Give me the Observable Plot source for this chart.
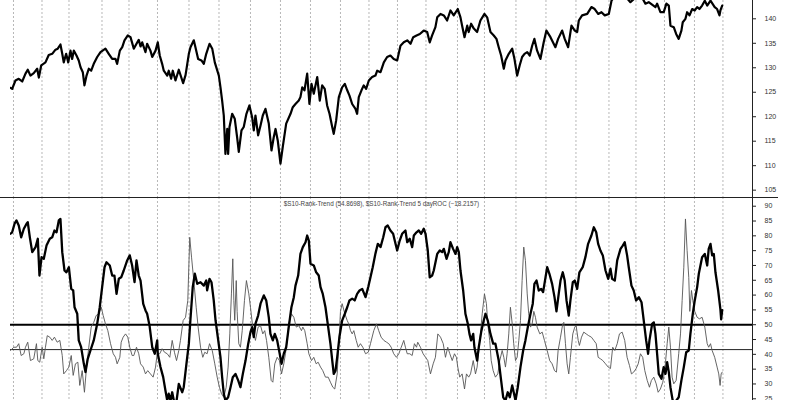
<!DOCTYPE html>
<html>
<head>
<meta charset="utf-8">
<script src="https://cdn.jsdelivr.net/npm/d3@7"></script>
<script src="https://cdn.jsdelivr.net/npm/@observablehq/plot@0.6"></script>
<style>
  html, body { margin: 0; padding: 0; background: #fff; }
  #chart { width: 800px; height: 400px; position: relative; overflow: hidden; }
  #chart svg { display: block; }
  .sep { position: absolute; left: 0; top: 196.5px; width: 778px; height: 0; border-top: 1px solid #222; }
</style>
</head>
<body>
<div id="chart"></div>
<script>
// ---- data (x = trading-session index) ----
const gridDays = [2,21,39,61,79,98,119,139,160,180,200,220,239,258,277,298,316,337,357,377,399,417,436,456,475];
const priceTicks = [105,110,115,120,125,130,135,140];
const trendTicks = [25,30,35,40,45,50,55,60,65,70,75,80,85,90];
const levels = [50, 41.6];
const titleText = "$S10-Rank-Trend (54.8698), $S10-Rank-Trend 5 dayROC (\u221218.2157)";

const price = [
[0,125.9],[1.1,125.7],[3.3,127.4],[5.5,127.75],[7.8,127.2],[10,128.8],[11.5,129.6],[13.3,128.4],[15.5,128.9],[17.8,129.8],
[18.9,128.0],[20.5,130.5],[23.3,131.1],[25.5,132.6],[27.8,132.85],[30,133.7],[31.5,133.9],[33.3,134.75],[34.5,132.85],[35.5,131.1],
[37.1,132.85],[38.5,131.1],[40,133.5],[41.1,131.8],[42.2,133.5],[44,132.5],[45.5,131.5],[46.7,130.1],[48.2,129.1],[49.3,126.4],
[50.7,128.4],[52.2,129.8],[53.8,129.4],[55.5,130.8],[57.8,132.2],[60,133.2],[63.3,133.9],[65.5,132.85],[67.8,131.8],[70,131.8],
[71.1,130.8],[72.9,133.5],[74.5,134.2],[76,135.6],[78.2,136.6],[80,136.25],[82.2,133.9],[84,134.9],[85.5,135.7],[86.7,134.35],
[87.8,135.2],[90,133.2],[91.1,134.9],[93.3,133.5],[94.5,132.2],[96.7,133.5],[98.2,135.2],[99.5,132.5],[101.1,130.8],[102.2,129.4],
[104.5,128.4],[105.5,129.4],[107.1,127.75],[108.2,129.4],[110,127.4],[112.2,129.6],[115.1,126.85],[116.7,128.5],[118.9,132.85],[120,134.2],
[122.2,135.6],[123.3,134.2],[125.1,131.8],[127.3,131.5],[128.9,130.8],[130.5,132.85],[132.7,134.9],[134.5,133.9],[136.2,131.1],[138.9,128.4],
[140,126.0],[141.1,123.3],[142.2,120.25],[143.3,112.4],[144.5,117.5],[145.1,112.4],[146,117.9],[147.8,120.6],[149.5,119.6],[151.1,115.8],
[152.2,112.8],[154,117.2],[155.5,117.9],[157.3,120.6],[159.3,122.3],[161.1,119.9],[162.2,117.2],[163.3,120.25],[165.1,116.2],[166.7,118.2],
[168.2,120.25],[170,121.6],[172.2,118.6],[174,113.1],[175.5,115.8],[176.7,117.5],[178.2,115.1],[180,110.4],[181.5,113.8],[183.8,118.6],
[186.7,120.6],[188.2,121.95],[190,122.6],[192.2,123.3],[193.3,124.0],[194.5,126.0],[196,125.4],[197.8,128.8],[199.3,122.6],[200.7,126.7],
[202.2,124.7],[204.5,128.1],[206.2,123.3],[207.8,126.4],[209.5,125.7],[211.1,122.3],[212.7,120.6],[214.5,117.9],[215.5,116.5],[217.1,119.2],
[218.9,124.0],[221.1,126.0],[222.9,126.7],[224.5,125.4],[226,124.3],[227.8,122.6],[230,121.6],[231.1,120.6],[232.2,124.0],[234,125.4],
[235.5,126.4],[237.1,125.7],[238.9,127.4],[241.1,128.1],[243.3,128.4],[244.5,129.4],[246.7,129.1],[248.9,131.1],[251.1,132.2],[253.3,132.5],
[255.5,131.8],[257.8,131.5],[260,134.5],[262.2,135.2],[264.5,135.6],[266.7,134.9],[268.5,136.25],[270.7,136.6],[272.9,136.9],[275.5,137.6],
[277.8,137.3],[279.5,135.2],[281.1,136.6],[283.3,138.3],[284.5,140.3],[286.7,141.0],[288.9,140.7],[291.1,139.65],[293.3,141.7],[295.5,140.7],
[298.2,142.0],[300,140.3],[301.1,138.6],[302.7,136.25],[304.5,138.6],[305.5,137.3],[307.1,139.0],[308.9,138.0],[311.1,137.3],[313.3,139.65],
[316,141.0],[317.8,140.3],[320,137.3],[322.2,136.6],[324,135.9],[325.5,134.2],[327.1,132.5],[328.9,129.8],[330,131.5],[332.2,132.85],
[334.5,133.9],[336,131.8],[337.8,128.4],[339.5,130.5],[341.1,132.2],[342.7,132.85],[344.5,133.2],[346.2,132.5],[347.8,134.5],[349.3,135.9],
[351.1,133.5],[353.3,131.8],[355.5,135.2],[357.3,137.6],[360,136.25],[363.3,134.2],[365.1,135.9],[367.8,137.6],[369.5,135.9],[371.8,134.2],
[374,138.6],[376.2,137.6],[377.8,137.3],[378.9,139.65],[381.1,140.7],[384.5,141.0],[387.3,142.4],[389.5,142.0],[391.8,141.0],[394,141.35],
[396.2,140.7],[398.9,141.0],[400.7,143.7],[402.7,144.6],[406.7,145.0],[410.7,144.3],[413.3,143.4],[417.3,144.5],[421.3,144.2],[423.3,143.1],
[425.5,143.4],[430,142.4],[431.1,143.1],[433.3,141.35],[435.5,141.35],[437.3,143.1],[438.9,142.7],[440,138.6],[442.2,138.3],[443.8,136.9],
[445.5,135.9],[447.3,137.6],[448.2,139.3],[450,140.0],[451.1,141.35],[452.7,140.7],[454.5,142.0],[456.2,141.7],[457.8,142.4],[459.3,142.0],
[461.1,142.7],[462.9,143.7],[464.5,142.7],[466.7,143.7],[469.5,142.4],[471.1,142.0],[472.7,140.7],[473.3,141.7],[474.5,142.7]
];

const rankTrend = [
[0,80.7],[1.1,81.2],[2.7,84.1],[4,85.2],[5.5,83.5],[7.1,79.5],[8.9,82.4],[10.7,84.1],[11.5,84.6],[12.9,79.5],
[14.5,74.5],[16.7,76.2],[18.2,79.0],[19.3,66.6],[20.7,72.8],[22.2,72.25],[24,76.7],[26.2,79.0],[27.8,79.5],[29.3,81.8],
[30.7,81.2],[32.2,85.2],[33.3,85.7],[34.5,74.5],[36,68.3],[37.3,67.7],[38.9,69.4],[40.5,62.1],[41.8,61.6],[42.7,55.9],
[44.5,53.7],[45.5,44.7],[47.1,42.4],[48.9,36.8],[50,34.0],[51.5,38.5],[53.3,41.3],[55.5,44.7],[57.8,50.3],[59.5,55.9],
[61.1,62.7],[62.7,69.4],[64,71.1],[66.2,70.0],[67.8,66.6],[69.3,66.6],[70.7,60.4],[72.2,65.5],[73.8,66.0],[75.5,68.3],
[77.8,71.7],[79.5,73.4],[81.1,70.0],[82.7,64.35],[84,71.7],[85.5,66.6],[86.7,64.9],[88.5,57.0],[90,54.8],[91.1,53.7],
[92.7,49.7],[94.5,42.4],[96.2,40.2],[97.8,44.7],[98.2,40.2],[100,35.7],[101.8,32.3],[103.3,27.8],[104.5,24.4],[105.5,26.7],
[106.7,24.4],[107.8,27.2],[108.9,24.4],[110.5,23.5],[112.2,30.05],[114.5,27.2],[115.5,28.9],[117.3,36.8],[118.9,43.6],[120,52.0],
[121.5,62.7],[122.9,67.2],[124.5,63.8],[126.7,64.35],[128.9,63.2],[130.5,64.9],[131.1,61.6],[132.7,65.5],[134,64.35],[135.5,58.2],
[136.7,51.5],[138.5,44.7],[140,39.0],[141.1,32.3],[142.2,26.7],[143.3,24.4],[145.1,25.5],[146.7,28.9],[148.2,32.3],[150,33.4],
[151.8,31.2],[153.3,28.9],[154.9,33.4],[156.7,37.9],[158.5,43.6],[160,47.5],[161.1,49.2],[162.2,45.8],[163.3,50.3],[165.1,53.1],
[166.7,57.1],[168.9,59.9],[170.5,58.2],[172.2,52.5],[173.3,46.9],[174.9,44.7],[176.2,46.9],[177.8,44.7],[179.3,40.7],[180.7,36.8],
[182.2,40.2],[183.8,42.4],[185.5,49.2],[187.3,55.9],[188.9,59.3],[190,63.2],[191.8,66.6],[193.3,73.9],[194.9,76.2],[196.7,77.85],
[197.8,80.1],[198.9,78.4],[200,70.6],[202.2,70.0],[203.8,67.7],[205.5,66.6],[206.7,62.7],[208.2,60.4],[210,55.9],[211.8,49.2],
[213.3,43.6],[214.5,38.0],[215.5,33.4],[216.7,34.5],[217.8,39.0],[219.3,45.8],[221.1,51.4],[222.9,53.7],[224.5,55.9],[226,58.2],
[227.8,58.8],[229.5,58.2],[231.1,60.4],[232.7,61.55],[234.5,62.1],[236.7,59.3],[238.5,62.7],[240,66.0],[241.5,69.4],[243.3,74.0],
[244.9,77.3],[246.7,76.2],[248.5,79.5],[250,82.9],[251.5,83.5],[253.3,81.8],[255.1,80.7],[256.7,77.3],[257.8,75.05],[259.5,78.4],
[261.1,80.7],[263.3,81.8],[264.5,77.85],[266.2,79.0],[267.8,76.2],[268.9,80.1],[270.7,81.2],[272.2,81.8],[273.8,80.7],[275.5,82.4],
[276.7,80.7],[278.2,75.05],[279.5,66.0],[281.1,66.6],[282.2,68.3],[284.5,73.9],[286.2,75.05],[287.8,74.5],[288.9,75.6],[290.7,72.25],
[292.2,74.5],[293.3,77.85],[295.1,75.6],[296.7,73.9],[297.8,76.2],[298.9,74.5],[300,68.3],[301.8,61.55],[303.3,53.7],[304.9,50.3],
[306,46.9],[307.1,44.7],[308.5,46.9],[309.3,42.4],[311.1,37.9],[312.2,42.4],[313.8,47.5],[315.5,51.4],[316.7,53.7],[318.2,51.4],
[320,46.9],[321.8,43.6],[323.3,43.6],[325.5,37.9],[327.1,31.2],[328.5,25.5],[330,24.4],[331.5,27.2],[332.9,25.5],[334.5,29.5],
[335.5,27.2],[336.7,24.4],[338.2,28.9],[340,35.7],[341.8,41.3],[343.3,44.7],[344.9,49.2],[346.7,53.7],[348.2,57.1],[349.3,63.8],
[350.7,64.9],[352.2,61.55],[353.8,62.1],[355.1,61.0],[356.7,66.0],[357.8,69.4],[359.3,67.2],[361.1,63.8],[362.7,59.3],[364,54.5],
[365.5,60.4],[366.7,64.9],[368.2,67.7],[369.5,64.9],[370.7,58.2],[372.2,53.1],[373.3,58.2],[374.9,64.35],[376.2,64.9],[377.8,62.1],
[379.3,67.7],[381.5,69.4],[383.3,72.8],[385.1,77.3],[387.3,80.1],[388.9,82.9],[390.5,81.2],[391.8,77.3],[393.3,75.05],[394.9,73.4],
[396.7,68.3],[398.5,65.5],[400,68.9],[401.1,65.5],[402.9,64.9],[404.5,71.7],[406.7,75.6],[408.2,76.7],[409.5,77.85],[411.1,73.4],
[412.2,69.4],[414,63.2],[415.5,61.55],[417.1,58.2],[418.9,59.3],[420.7,57.6],[422.2,51.4],[423.8,44.7],[425.1,40.2],[426,44.7],
[427.8,50.3],[428.9,50.8],[430,46.9],[431.1,40.2],[432.2,33.4],[434,31.75],[435.5,35.7],[436.7,33.4],[437.8,37.35],[438.9,34.0],
[440,28.9],[441.5,24.4],[443.3,24.0],[445.5,25.5],[447.3,31.2],[448.9,35.7],[450.5,40.7],[452.2,41.3],[453.3,46.9],[454.9,53.7],
[456.2,58.2],[457.8,62.7],[458.9,67.2],[461.1,72.8],[462.9,73.9],[464.5,70.0],[465.5,75.6],[466.7,77.3],[467.8,73.4],[468.9,73.9],
[470,67.7],[471.8,61.55],[473.3,55.2],[473.8,51.8],[474.5,54.9]
];

const roc5 = [
[0,41.3],[2.2,42.4],[4,42.4],[5.5,43.6],[7.1,39.6],[8.9,40.2],[10,42.4],[11.5,44.1],[13.3,37.9],[15.5,38.5],
[17.3,43.6],[18.2,37.9],[19.5,37.35],[21.1,42.4],[22.2,38.5],[23.3,42.4],[24.5,46.3],[26.2,45.8],[27.8,44.7],[29.3,45.8],
[31.1,44.1],[32.9,44.7],[34.5,39.6],[35.5,33.4],[37.3,34.5],[38.9,35.7],[40.5,39.6],[41.8,32.9],[43.3,36.8],[44.9,37.35],
[46.2,29.5],[47.8,34.5],[49.3,27.2],[50.7,35.7],[52.2,42.4],[53.8,49.2],[55.5,50.8],[57.1,53.1],[58.9,53.7],[60.5,55.9],
[61.8,53.1],[63.3,50.3],[64.9,48.0],[66.7,43.6],[68.5,40.2],[70,39.0],[71.1,36.8],[72.9,39.0],[73.8,44.1],[75.1,45.8],
[76.7,46.9],[78.2,45.8],[79.5,42.4],[81.1,39.6],[82.2,39.6],[84,42.4],[85.5,40.2],[86.7,36.8],[88.5,35.7],[90,33.4],
[91.5,34.5],[93.3,33.4],[95.1,32.3],[96.7,35.7],[97.8,40.2],[99.5,40.2],[101.1,41.9],[102.7,40.7],[104.5,40.2],[106.2,39.0],
[107.8,44.7],[109.3,40.7],[110.7,37.9],[112.2,41.3],[113.3,44.7],[115.1,51.4],[116.7,52.5],[118.2,58.2],[119.5,79.5],[120.7,72.8],
[122.2,64.9],[123.8,55.9],[125.1,49.2],[126.7,42.4],[128.2,39.0],[129.5,40.7],[131.1,40.2],[132.7,43.6],[134.5,41.3],[136.2,36.8],
[137.8,32.3],[139.3,28.9],[140.7,26.7],[142.2,25.5],[143.8,28.9],[145.1,35.7],[146.2,46.9],[147.3,60.4],[148.2,72.25],[148.9,58.2],
[149.5,51.5],[150.5,64.9],[151.1,54.5],[152.2,43.6],[153.3,42.4],[154.5,48.0],[156,58.2],[157.3,64.9],[158.9,60.4],[160,55.9],
[161.5,49.2],[163.3,44.7],[165.1,49.2],[166.7,49.7],[168.2,46.9],[169.5,48.0],[170.7,44.7],[172.2,39.0],[173.8,31.2],[174.9,30.6],
[176.2,36.8],[177.8,39.0],[179.3,37.9],[180.7,33.4],[182.2,36.8],[183.3,40.2],[184.5,44.7],[185.5,50.3],[187.3,53.7],[188.9,52.5],
[190.5,49.2],[192.2,49.7],[194,48.0],[194.9,49.2],[196.2,48.0],[197.8,43.6],[198.9,40.2],[200.7,37.9],[202.2,39.0],[203.8,36.8],
[205.1,37.35],[206.7,35.7],[208.2,34.5],[210,32.3],[211.8,32.3],[213.3,30.6],[214.9,28.9],[216.2,28.3],[217.8,33.4],[218.9,43.6],
[220,54.5],[221.1,57.1],[222.9,53.7],[224.5,51.4],[225.5,50.3],[226.7,48.0],[227.8,46.9],[228.9,48.0],[230.5,44.7],[231.8,42.4],
[233.3,43.6],[234.9,42.4],[236.7,40.2],[238.5,40.7],[240,43.6],[242.2,48.0],[244,50.3],[245.5,48.0],[247.1,45.8],[248.9,44.7],
[250.7,44.1],[252.2,43.6],[253.8,42.4],[255.5,40.2],[257.3,39.0],[258.9,40.2],[260.5,42.4],[262.2,44.7],[263.3,42.4],[264.5,40.2],
[266.2,40.2],[267.8,39.6],[269.3,43.6],[270.7,42.4],[271.5,44.1],[273.3,42.4],[275.1,40.2],[276.7,39.0],[278.2,37.9],[280,33.4],
[281.8,36.8],[283.3,39.0],[284.9,46.9],[286.7,45.8],[288.5,43.6],[290,39.0],[291.5,42.4],[292.9,40.2],[294.5,37.9],[296,40.2],
[297.3,39.0],[298.2,35.7],[299.5,32.3],[301.1,33.4],[302.7,28.3],[304,33.4],[305.5,32.3],[306.7,33.4],[308.5,37.9],[310,33.4],
[311.1,35.7],[312.2,41.3],[313.3,46.9],[314.5,53.7],[316,60.4],[317.3,57.1],[318.2,50.3],[319.5,44.7],[320.5,37.9],[321.8,34.5],
[323.3,32.3],[324.9,33.4],[326.2,37.9],[327.8,41.3],[328.9,39.0],[330,35.7],[331.1,40.2],[332.2,46.9],[333.3,55.9],[334.5,50.3],
[335.5,43.6],[336.7,37.9],[337.8,39.0],[338.9,44.7],[340,51.4],[341.1,64.9],[342.2,76.2],[343.3,71.7],[344.5,60.4],[345.5,53.7],
[346.7,49.2],[347.8,50.3],[348.9,54.5],[350,52.5],[351.1,49.2],[352.9,46.9],[354.5,47.5],[356,44.7],[357.8,41.3],[359.5,37.9],
[361.1,36.8],[362.7,34.5],[364,34.0],[365.1,41.3],[366.7,45.8],[368.2,50.3],[368.9,50.8],[370,43.6],[371.1,36.8],[372.2,33.4],
[373.3,39.0],[374.9,46.9],[376.2,49.2],[377.1,49.7],[378.5,44.7],[379.3,43.0],[380.7,45.8],[382.2,47.5],[383.8,46.9],[385.5,46.3],
[387.3,45.8],[388.9,44.7],[390.5,43.6],[391.8,39.0],[393.3,38.5],[394.9,37.9],[396.7,36.8],[398.5,35.7],[400,35.2],[401.5,42.4],
[402.9,41.3],[404.5,43.6],[406,46.9],[407.8,47.5],[409.5,44.7],[411.1,39.0],[412.7,36.2],[414,33.4],[415.5,34.0],[417.1,35.2],
[418.5,36.8],[420,40.2],[421.5,39.0],[422.9,34.5],[424.5,31.2],[426,28.9],[427.3,31.2],[428.9,32.3],[430.5,30.05],[431.8,27.2],
[433.3,28.3],[434.9,30.6],[436.2,34.5],[437.8,43.6],[438.9,49.2],[440,42.4],[441.1,32.3],[442.2,30.05],[443.8,31.2],[445.5,40.2],
[446.7,46.9],[447.8,58.2],[448.9,69.4],[450,85.7],[451.1,75.05],[452.2,66.0],[452.9,54.5],[454,61.55],[454.9,58.2],[456.2,54.5],
[457.8,52.5],[459.3,52.0],[461.1,52.5],[462.9,49.2],[464.5,43.6],[465.5,42.4],[466.7,43.6],[467.8,41.3],[469.5,39.0],[471.1,35.7],
[472.2,33.4],[473.1,29.5],[473.8,33.4],[474.5,34.0]
];

// ---- build ----
const toObj = a => a.map(([d, v]) => ({d, v}));
const xDomain = [0, 494.7];
const font = "'Liberation Sans', Arial, sans-serif";
const gridStyle = {stroke: "#b8b8b8", strokeWidth: 1, strokeDasharray: "2,2"};

const priceChart = Plot.plot({
  width: 800, height: 197,
  marginLeft: 10, marginRight: 48, marginTop: 0, marginBottom: 0,
  style: {fontFamily: font, fontSize: "7px", color: "#333", background: "#fff"},
  x: {domain: xDomain, axis: null},
  y: {domain: [103.5, 143.74], axis: null},
  marks: [
    Plot.ruleX(gridDays, gridStyle),
    Plot.line(toObj(price), {x: "d", y: "v", stroke: "#000", strokeWidth: 2.2, strokeLinejoin: "round", clip: true}),
    Plot.ruleX([xDomain[1]], {stroke: "#222", strokeWidth: 1}),
    Plot.axisY(priceTicks, {anchor: "right", tickSize: 3, tickPadding: 9, stroke: "#222", fill: "#333", fontSize: 7, label: null})
  ]
});

const trendChart = Plot.plot({
  width: 800, height: 203,
  marginLeft: 10, marginRight: 48, marginTop: 0, marginBottom: 0,
  style: {fontFamily: font, fontSize: "7px", color: "#333", background: "#fff"},
  x: {domain: xDomain, axis: null},
  y: {domain: [24.42, 92.94], axis: null},
  marks: [
    Plot.ruleX(gridDays, gridStyle),
    Plot.ruleY([levels[0]], {stroke: "#000", strokeWidth: 2}),
    Plot.ruleY([levels[1]], {stroke: "#222", strokeWidth: 1}),
    Plot.line(toObj(roc5), {x: "d", y: "v", stroke: "#555", strokeWidth: 0.9, strokeLinejoin: "round", clip: true}),
    Plot.line(toObj(rankTrend), {x: "d", y: "v", stroke: "#000", strokeWidth: 2.3, strokeLinejoin: "round", clip: true}),
    Plot.ruleX([xDomain[1]], {stroke: "#222", strokeWidth: 1}),
    Plot.axisY(trendTicks, {anchor: "right", tickSize: 3, tickPadding: 9, stroke: "#222", fill: "#333", fontSize: 7, label: null}),
    Plot.text([titleText], {frameAnchor: "top", dy: 4, fontSize: 6.3, fill: "#444", text: d => d})
  ]
});

const root = document.getElementById("chart");
root.appendChild(priceChart);
root.appendChild(trendChart);
const sep = document.createElement("div");
sep.className = "sep";
root.appendChild(sep);
</script>
</body>
</html>
